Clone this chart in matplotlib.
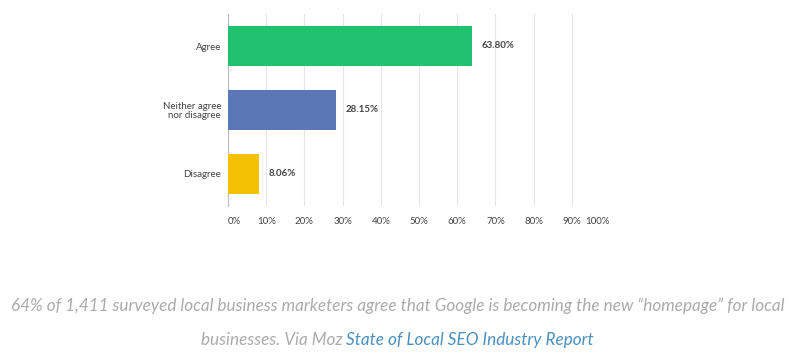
import matplotlib
matplotlib.use("Agg")
import matplotlib.pyplot as plt

categories = ["Agree", "Neither agree\nnor disagree", "Disagree"]
values = [63.80, 28.15, 8.06]
value_labels = ["63.80%", "28.15%", "8.06%"]
colors = ["#21C16F", "#5B77B5", "#F5C105"]
xticks = [0, 10, 20, 30, 40, 50, 60, 70, 80, 90, 100]
xtick_labels = ["0%", "10%", "20%", "30%", "40%", "50%", "60%", "70%", "80%", "90%", "100%"]

plt.rcParams['font.family'] = ['Lato', 'DejaVu Sans']

fig = plt.figure(figsize=(7.95, 3.63), dpi=100)
ax = fig.add_axes([228/795, 1-206/363, (610-228)/795, (206-14)/363])

ypos = list(range(len(categories)))
ax.barh(ypos, values, height=0.625, color=colors, zorder=3)
ax.set_ylim(len(categories)-0.5, -0.5)
ax.set_xlim(0, 100)
ax.set_yticks(ypos)
ax.set_yticklabels(categories, fontsize=7, color="#444444", linespacing=1.0)
ax.set_xticks(xticks)
ax.set_xticklabels(xtick_labels, fontsize=7, color="#444444")
ax.tick_params(axis='y', length=0, pad=5)
ax.tick_params(axis='x', length=0, pad=8)
xt = ax.get_xticklabels()
xt[0].set_horizontalalignment('left')
xt[-1].set_horizontalalignment('right')
ax.grid(axis='x', color="#E6E6E6", linewidth=0.8, zorder=0)
for s in ['top', 'right', 'bottom']:
    ax.spines[s].set_visible(False)
ax.spines['left'].set_color("#BBBBBB")
ax.spines['left'].set_linewidth(0.8)

for y, v, lab in zip(ypos, values, value_labels):
    ax.annotate(lab, (v, y), xytext=(7, 0), textcoords='offset points',
                va='center', ha='left', fontsize=7, color="#444444", fontweight='bold')

cap_kw = dict(fontsize=12.3, style='italic', fontweight='normal')
cap_gray = "#ABABAB"
fig.text(0.5, 1-306/363, "64% of 1,411 surveyed local business marketers agree that Google is becoming the new \u201chomepage\u201d for local",
         ha='center', va='center', color=cap_gray, **cap_kw)

fig.canvas.draw()
r = fig.canvas.get_renderer()
part1 = "businesses. Via Moz "
part2 = "State of Local SEO Industry Report"
t1 = fig.text(0, 1-340/363, part1, ha='left', va='center', color=cap_gray, **cap_kw)
t2 = fig.text(0, 1-340/363, part2, ha='left', va='center', color="#4A90C0", **cap_kw)
w1 = t1.get_window_extent(r).width
w2 = t2.get_window_extent(r).width
W = fig.bbox.width
start = (W - (w1 + w2)) / 2
t1.set_x(start / W)
t2.set_x((start + w1) / W)

fig.savefig("out.png", dpi=100)
